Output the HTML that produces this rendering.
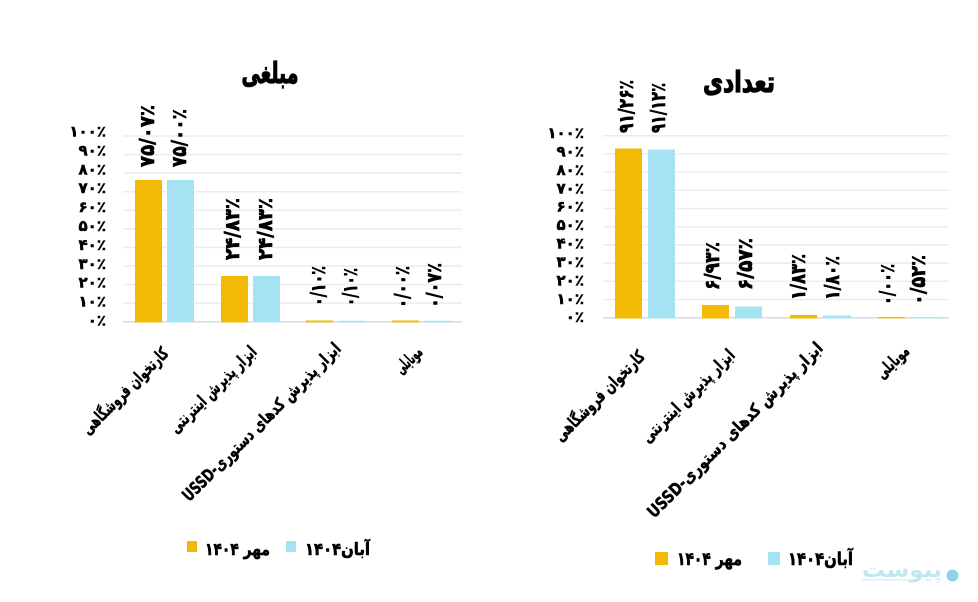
<!DOCTYPE html>
<html><head><meta charset="utf-8"><style>
html,body{margin:0;padding:0;background:#fff;}
svg{display:block;font-family:"DejaVu Sans","Liberation Sans",sans-serif;font-weight:bold;}
</style></head><body>
<svg width="978" height="602" viewBox="0 0 978 602" xmlns="http://www.w3.org/2000/svg">
<rect width="978" height="602" fill="#fff"/>

<!-- ===== LEFT CHART ===== -->
<g stroke="#ececec" stroke-width="1.5">
<line x1="123" x2="462" y1="136" y2="136"/>
<line x1="123" x2="462" y1="154.6" y2="154.6"/>
<line x1="123" x2="462" y1="173.1" y2="173.1"/>
<line x1="123" x2="462" y1="191.7" y2="191.7"/>
<line x1="123" x2="462" y1="210.3" y2="210.3"/>
<line x1="123" x2="462" y1="228.9" y2="228.9"/>
<line x1="123" x2="462" y1="247.4" y2="247.4"/>
<line x1="123" x2="462" y1="266" y2="266"/>
<line x1="123" x2="462" y1="284.6" y2="284.6"/>
<line x1="123" x2="462" y1="303.1" y2="303.1"/>
</g>
<line x1="123" x2="462" y1="321.7" y2="321.7" stroke="#d5dbe1" stroke-width="1.5"/>

<g fill="#F2BA05">
<rect x="135" y="180" width="27" height="142.5"/>
<rect x="221" y="276" width="27" height="46.5"/>
<rect x="306" y="320.5" width="27" height="2"/>
<rect x="392" y="320.5" width="27" height="2"/>
</g>
<g fill="#A6E3F2">
<rect x="167" y="180" width="27" height="142.5"/>
<rect x="253" y="276" width="27" height="46.5"/>
<rect x="338" y="320.8" width="28" height="1.8"/>
<rect x="424" y="320.8" width="28" height="1.8"/>
</g>

<g font-size="15" text-anchor="end" fill="#000" stroke="#000" stroke-width="0.5">
<text x="106" y="136.5">۱۰۰٪</text>
<text x="106" y="155.4">۹۰٪</text>
<text x="106" y="174.3">۸۰٪</text>
<text x="106" y="193.2">۷۰٪</text>
<text x="106" y="212.1">۶۰٪</text>
<text x="106" y="231">۵۰٪</text>
<text x="106" y="249.9">۴۰٪</text>
<text x="106" y="268.8">۳۰٪</text>
<text x="106" y="287.7">۲۰٪</text>
<text x="106" y="306.6">۱۰٪</text>
<text x="106" y="325.5">۰٪</text>
</g>

<g font-size="20" fill="#000" stroke="#000" stroke-width="0.7">
<text transform="translate(147,167) rotate(-90)" y="7" textLength="62" lengthAdjust="spacingAndGlyphs">۷۵/۰۷٪</text>
<text transform="translate(179,167) rotate(-90)" y="7" textLength="58" lengthAdjust="spacingAndGlyphs">۷۵/۰۰٪</text>
<text transform="translate(232,260) rotate(-90)" y="7" textLength="62" lengthAdjust="spacingAndGlyphs">۲۴/۸۳٪</text>
<text transform="translate(265,260) rotate(-90)" y="7" textLength="62" lengthAdjust="spacingAndGlyphs">۲۴/۸۳٪</text>
<text transform="translate(318,306) rotate(-90)" y="7" textLength="40" lengthAdjust="spacingAndGlyphs">۰/۱۰٪</text>
<text transform="translate(350,306) rotate(-90)" y="7" textLength="38" lengthAdjust="spacingAndGlyphs">۰/۱۰٪</text>
<text transform="translate(402,308) rotate(-90)" y="7" textLength="42" lengthAdjust="spacingAndGlyphs">۰/۰۰٪</text>
<text transform="translate(434,308) rotate(-90)" y="7" textLength="45" lengthAdjust="spacingAndGlyphs">۰/۰۷٪</text>
</g>

<text x="270" y="83" font-size="29" text-anchor="middle" stroke="#000" stroke-width="1.2" textLength="57" lengthAdjust="spacingAndGlyphs">مبلغی</text>

<g font-size="17" text-anchor="middle" fill="#000" stroke="#000" stroke-width="0.45" direction="rtl" unicode-bidi="embed">
<text transform="translate(125.5,391.5) rotate(-45)" y="5" textLength="115" lengthAdjust="spacingAndGlyphs">کارتخوان فروشگاهی</text>
<text transform="translate(213.5,390) rotate(-45)" y="5" textLength="115" lengthAdjust="spacingAndGlyphs">ابزار پذیرش اینترنتی</text>
<text transform="translate(262,422.5) rotate(-45)" y="5" textLength="216" lengthAdjust="spacingAndGlyphs">ابزار پذیرش کدهای دستوری-USSD</text>
<text transform="translate(409,360.5) rotate(-45)" y="5" textLength="31" lengthAdjust="spacingAndGlyphs">موبایلی</text>
</g>

<rect x="187" y="541" width="10" height="11" fill="#F2BA05"/>
<text x="237.5" y="555" font-size="17" text-anchor="middle" stroke="#000" stroke-width="0.6" textLength="65" lengthAdjust="spacingAndGlyphs">مهر ۱۴۰۴</text>
<rect x="286" y="541" width="10" height="11" fill="#A6E3F2"/>
<text x="337.5" y="555" font-size="17" text-anchor="middle" stroke="#000" stroke-width="0.6" textLength="65" lengthAdjust="spacingAndGlyphs">آبان۱۴۰۴</text>

<!-- ===== RIGHT CHART ===== -->
<g stroke="#ececec" stroke-width="1.5">
<line x1="603" x2="949" y1="135.7" y2="135.7"/>
<line x1="603" x2="949" y1="153.9" y2="153.9"/>
<line x1="603" x2="949" y1="172.1" y2="172.1"/>
<line x1="603" x2="949" y1="190.3" y2="190.3"/>
<line x1="603" x2="949" y1="208.5" y2="208.5"/>
<line x1="603" x2="949" y1="226.7" y2="226.7"/>
<line x1="603" x2="949" y1="244.9" y2="244.9"/>
<line x1="603" x2="949" y1="263.1" y2="263.1"/>
<line x1="603" x2="949" y1="281.3" y2="281.3"/>
<line x1="603" x2="949" y1="299.5" y2="299.5"/>
</g>
<line x1="603" x2="949" y1="317.7" y2="317.7" stroke="#d5dbe1" stroke-width="1.5"/>

<g fill="#F2BA05">
<rect x="615" y="148.5" width="27" height="170"/>
<rect x="702" y="305" width="27" height="13.5"/>
<rect x="790" y="315" width="27" height="3.5"/>
<rect x="878" y="317" width="27" height="1.5"/>
</g>
<g fill="#A6E3F2">
<rect x="648" y="149.5" width="27" height="169"/>
<rect x="735" y="306.5" width="27" height="12"/>
<rect x="823" y="315.5" width="28" height="3"/>
<rect x="911" y="317" width="27" height="1.5"/>
</g>

<g font-size="15" text-anchor="end" fill="#000" stroke="#000" stroke-width="0.5">
<text x="584" y="138">۱۰۰٪</text>
<text x="584" y="156.4">۹۰٪</text>
<text x="584" y="174.8">۸۰٪</text>
<text x="584" y="193.3">۷۰٪</text>
<text x="584" y="211.7">۶۰٪</text>
<text x="584" y="230.1">۵۰٪</text>
<text x="584" y="248.5">۴۰٪</text>
<text x="584" y="266.9">۳۰٪</text>
<text x="584" y="285.4">۲۰٪</text>
<text x="584" y="303.8">۱۰٪</text>
<text x="584" y="322.2">۰٪</text>
</g>

<g font-size="20" fill="#000" stroke="#000" stroke-width="0.7">
<text transform="translate(626,133) rotate(-90)" y="7" textLength="53" lengthAdjust="spacingAndGlyphs">۹۱/۲۶٪</text>
<text transform="translate(658,133) rotate(-90)" y="7" textLength="50" lengthAdjust="spacingAndGlyphs">۹۱/۱۲٪</text>
<text transform="translate(712,290) rotate(-90)" y="7" textLength="48" lengthAdjust="spacingAndGlyphs">۶/۹۳٪</text>
<text transform="translate(745,290) rotate(-90)" y="7" textLength="52" lengthAdjust="spacingAndGlyphs">۶/۵۷٪</text>
<text transform="translate(798,300) rotate(-90)" y="7" textLength="46" lengthAdjust="spacingAndGlyphs">۱/۸۳٪</text>
<text transform="translate(832,300) rotate(-90)" y="7" textLength="44" lengthAdjust="spacingAndGlyphs">۱/۸۰٪</text>
<text transform="translate(887,305) rotate(-90)" y="7" textLength="41" lengthAdjust="spacingAndGlyphs">۰/۰۰٪</text>
<text transform="translate(918,305) rotate(-90)" y="7" textLength="50" lengthAdjust="spacingAndGlyphs">۰/۵۲٪</text>
</g>

<text x="739" y="92" font-size="29" text-anchor="middle" stroke="#000" stroke-width="1.2" textLength="72" lengthAdjust="spacingAndGlyphs">تعدادی</text>

<g font-size="17" text-anchor="middle" fill="#000" stroke="#000" stroke-width="0.45" direction="rtl" unicode-bidi="embed">
<text transform="translate(600,396.5) rotate(-45)" y="5" textLength="120" lengthAdjust="spacingAndGlyphs">کارتخوان فروشگاهی</text>
<text transform="translate(688.5,396.5) rotate(-45)" y="5" textLength="124" lengthAdjust="spacingAndGlyphs">ابزار پذیرش اینترنتی</text>
<text transform="translate(735.5,430.5) rotate(-45)" y="5" textLength="240" lengthAdjust="spacingAndGlyphs">ابزار پذیرش کدهای دستوری-USSD</text>
<text transform="translate(893,362.5) rotate(-45)" y="5" textLength="39" lengthAdjust="spacingAndGlyphs">موبایلی</text>
</g>

<rect x="655" y="552" width="13" height="13" fill="#F2BA05"/>
<text x="709.5" y="565" font-size="18" text-anchor="middle" stroke="#000" stroke-width="0.6" textLength="65" lengthAdjust="spacingAndGlyphs">مهر ۱۴۰۴</text>
<rect x="768" y="552" width="12" height="13" fill="#A6E3F2"/>
<text x="820.5" y="565" font-size="18" text-anchor="middle" stroke="#000" stroke-width="0.6" textLength="65" lengthAdjust="spacingAndGlyphs">آبان۱۴۰۴</text>

<!-- logo -->
<circle cx="952.5" cy="575.5" r="6" fill="#8fd3ea"/>
<text x="902" y="577" font-size="22" text-anchor="middle" fill="#bfe6f2" font-weight="bold" textLength="80" lengthAdjust="spacingAndGlyphs">پیوست</text>
<rect x="862" y="579" width="50" height="1.5" fill="#e3eef2"/>
</svg>
</body></html>
